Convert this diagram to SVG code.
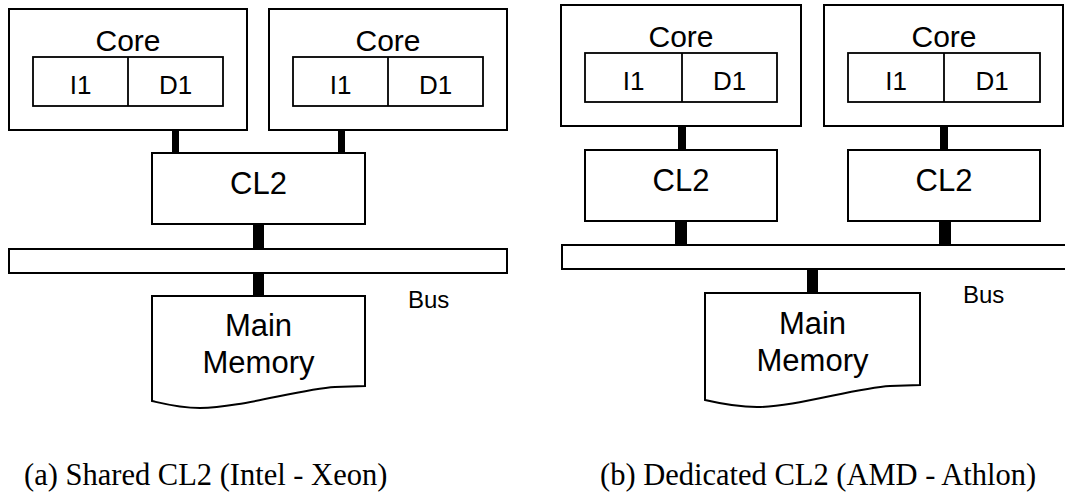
<svg xmlns="http://www.w3.org/2000/svg" width="1065" height="492" viewBox="0 0 1065 492">
<style>
.box{fill:#fff;stroke:#000;stroke-width:2}
.in{fill:none;stroke:#000;stroke-width:1.8}
.bar{fill:#000}
.t{font-family:"Liberation Sans",Arial,sans-serif;fill:#000;text-anchor:middle}
.core{font-size:30px}
.l1{font-size:26px}
.cl2{font-size:31px}
.mem{font-size:31px}
.bus{font-size:24px;text-anchor:start}
.cap{font-family:"Liberation Serif","Times New Roman",serif;font-size:30.5px;fill:#000}
</style>
<rect width="1065" height="492" fill="#fff"/>

<!-- (a) Shared CL2 -->
<g id="a-connectors">
<rect class="bar" x="172" y="130" width="7" height="23"/>
<rect class="bar" x="338" y="130" width="7" height="23"/>
<rect class="bar" x="253" y="224" width="11" height="25"/>
<rect class="bar" x="253" y="273" width="11" height="23"/>
</g>
<g id="a-core1">
<rect class="box" x="9" y="9" width="238" height="121"/>
<text class="t core" x="128" y="51">Core</text>
<rect class="in" x="33" y="57" width="190" height="49"/>
<line class="in" x1="128" y1="57" x2="128" y2="106"/>
<text class="t l1" x="80.5" y="94">I1</text>
<text class="t l1" x="175.5" y="94">D1</text>
</g>
<g id="a-core2">
<rect class="box" x="269" y="9" width="238" height="121"/>
<text class="t core" x="388" y="51">Core</text>
<rect class="in" x="293" y="57" width="190" height="49"/>
<line class="in" x1="388" y1="57" x2="388" y2="106"/>
<text class="t l1" x="340.5" y="94">I1</text>
<text class="t l1" x="435.5" y="94">D1</text>
</g>
<g id="a-cl2">
<rect class="box" x="152" y="153" width="213" height="71"/>
<text class="t cl2" x="258.5" y="194">CL2</text>
</g>
<g id="a-bus">
<rect class="box" x="9" y="249" width="498" height="24"/>
<text class="t bus" x="408" y="308">Bus</text>
</g>
<g id="a-memory">
<path class="box" d="M152,296 H365 V386 L335,387 C300,389 240,408 200,408 C180,408 165,404 152,401 Z"/>
<text class="t mem" x="258.5" y="336">Main</text>
<text class="t mem" x="258.5" y="373">Memory</text>
</g>
<text id="cap-a" class="cap" x="24" y="485">(a) Shared CL2 (Intel - Xeon)</text>

<!-- (b) Dedicated CL2 -->
<g id="b-connectors">
<rect class="bar" x="678" y="126" width="8" height="24"/>
<rect class="bar" x="940" y="126" width="8" height="24"/>
<rect class="bar" x="675" y="221" width="12" height="24"/>
<rect class="bar" x="939" y="221" width="12" height="24"/>
<rect class="bar" x="807" y="269" width="11" height="24"/>
</g>
<g id="b-core1">
<rect class="box" x="561" y="5" width="240" height="121"/>
<text class="t core" x="681" y="47">Core</text>
<rect class="in" x="585" y="53" width="192" height="49"/>
<line class="in" x1="682" y1="53" x2="682" y2="102"/>
<text class="t l1" x="633.5" y="90">I1</text>
<text class="t l1" x="729.5" y="90">D1</text>
</g>
<g id="b-core2">
<rect class="box" x="824" y="5" width="239" height="121"/>
<text class="t core" x="944" y="47">Core</text>
<rect class="in" x="848" y="53" width="192" height="49"/>
<line class="in" x1="944" y1="53" x2="944" y2="102"/>
<text class="t l1" x="896" y="90">I1</text>
<text class="t l1" x="992" y="90">D1</text>
</g>
<g id="b-cl2a">
<rect class="box" x="585" y="150" width="192" height="71"/>
<text class="t cl2" x="681" y="191">CL2</text>
</g>
<g id="b-cl2b">
<rect class="box" x="848" y="150" width="192" height="71"/>
<text class="t cl2" x="944" y="191">CL2</text>
</g>
<g id="b-bus">
<rect class="box" x="562" y="245" width="520" height="24"/>
<text class="t bus" x="963" y="303">Bus</text>
</g>
<g id="b-memory">
<path class="box" d="M705,293 H920 V385 L890,386 C855,388 795,407 757,407 C737,407 718,403 705,400 Z"/>
<text class="t mem" x="812.5" y="334">Main</text>
<text class="t mem" x="812.5" y="371">Memory</text>
</g>
<text id="cap-b" class="cap" x="600" y="485">(b) Dedicated CL2 (AMD - Athlon)</text>
</svg>
